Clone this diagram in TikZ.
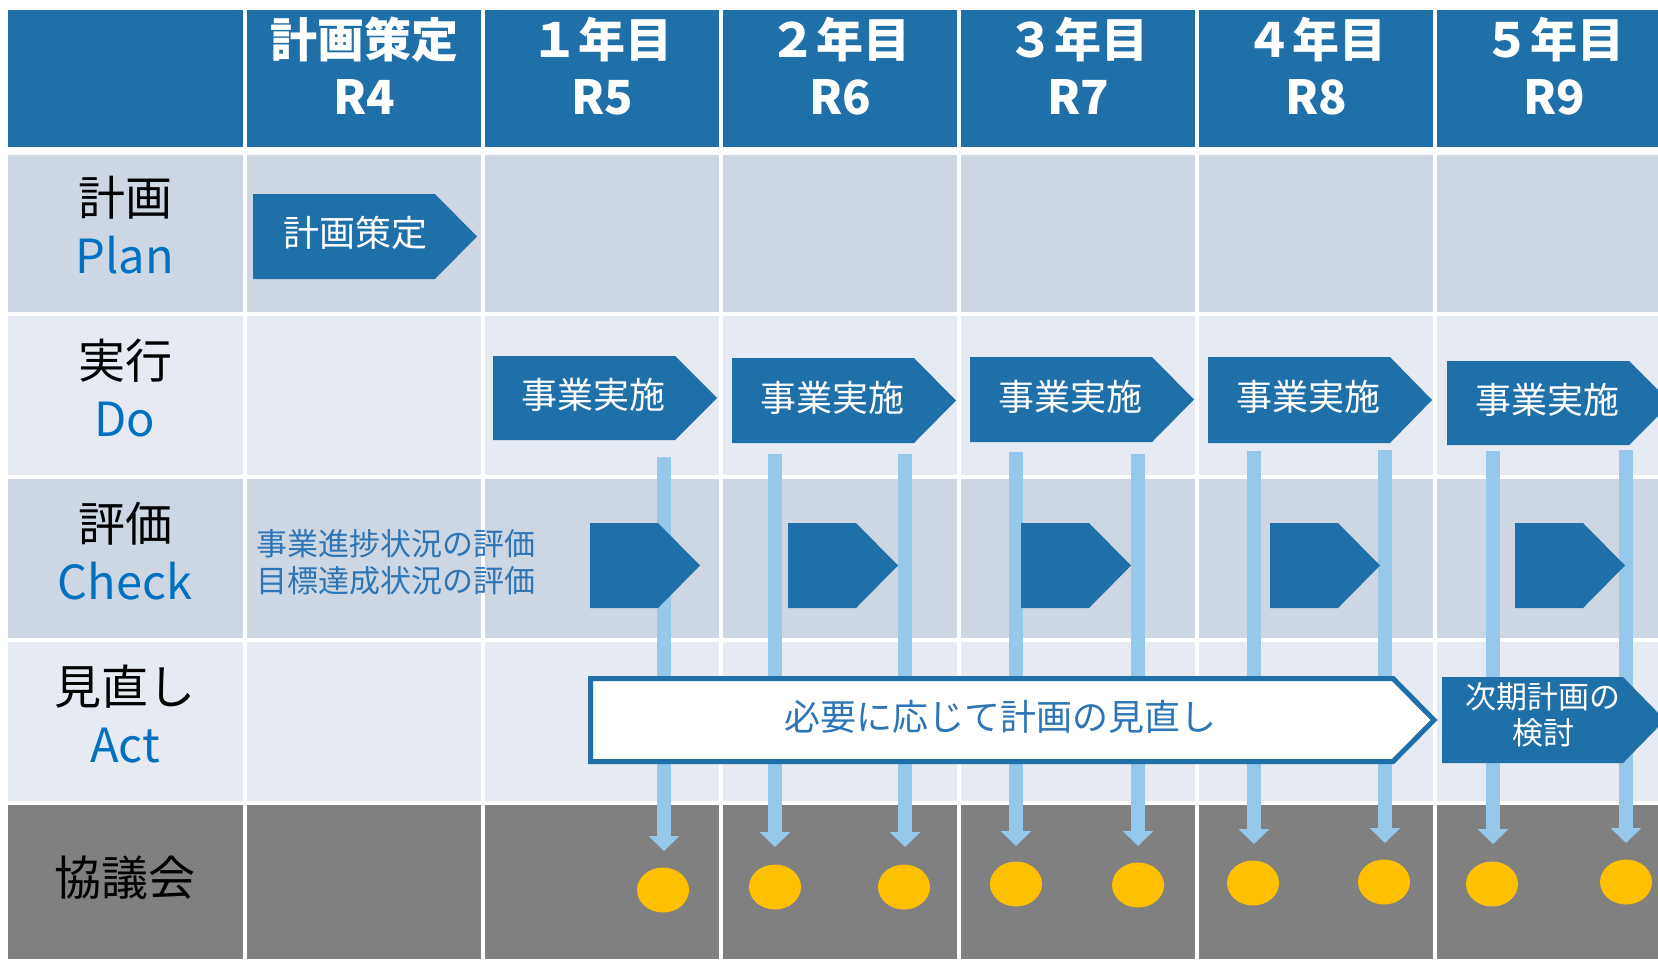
\documentclass[tikz,border=0pt]{standalone}
\usepackage{fontspec}
\setmainfont{Noto Sans CJK JP}
\usetikzlibrary{arrows.meta,shapes.geometric}
\definecolor{hdr}{HTML}{1F6FA8}
\definecolor{rowa}{HTML}{CDD7E3}
\definecolor{rowb}{HTML}{E6EAF2}
\definecolor{council}{HTML}{808080}
\definecolor{vline}{HTML}{96C8EC}
\definecolor{dotc}{HTML}{FFC000}
\definecolor{labblue}{HTML}{0070C0}
\definecolor{txtblue}{HTML}{2E75B6}
\newcommand\myfs[2]{\fontsize{#1}{#2}\selectfont}
\newcommand\pentfill[6]{\fill[#1] (#2,#5) -- (#3,#5) -- (#4,{(#5+#6)/2}) -- (#3,#6) -- (#2,#6) -- cycle;}
\tikzset{
  hdrtext/.style={text=white,align=center,inner sep=0pt,font=\myfs{23.5}{28.5}\bfseries},
  rowlab/.style={text=black,align=center,inner sep=0pt,font=\myfs{23.5}{29}},
  arrtext/.style={text=white,align=center,inner sep=0pt,font=\myfs{18}{22}},
  dotn/.style={ellipse,fill=dotc,draw=none,minimum width=26pt,minimum height=22.5pt,inner sep=0pt},
  varrow/.style={draw=vline,line width=7pt,-{Triangle[width=15pt,length=7.5pt]}},
  gridline/.style={draw=white,line width=2pt}
}
\begin{document}
\begin{tikzpicture}[x=0.5pt,y=-0.5pt]
\useasboundingbox (0,0) rectangle (1658,959);
\fill[white] (0,0) rectangle (1658,959);
% row bands
\fill[hdr] (8,10) rectangle (1658,147);
\fill[rowa] (8,155) rectangle (1658,312);
\fill[rowb] (8,316) rectangle (1658,475);
\fill[rowa] (8,479) rectangle (1658,638);
\fill[rowb] (8,642) rectangle (1658,801);
\fill[council] (8,805) rectangle (1658,959);
\foreach \x in {245,483,721,959,1197,1435} \draw[gridline] (\x,10) -- (\x,959);
% header
\node[hdrtext] (h0) at (364,66) {計画策定\\R4};
\node[hdrtext] (h1) at (602,66) {１年目\\R5};
\node[hdrtext] (h2) at (840,66) {２年目\\R6};
\node[hdrtext] (h3) at (1078,66) {３年目\\R7};
\node[hdrtext] (h4) at (1316,66) {４年目\\R8};
\node[hdrtext] (h5) at (1554,66) {５年目\\R9};
% row labels
\node[rowlab] (lplan) at (125,225) {計画\\\textcolor{labblue}{Plan}};
\node[rowlab] (ldo) at (125,388) {実行\\\textcolor{labblue}{Do}};
\node[rowlab] (lcheck) at (125,551) {評価\\\textcolor{labblue}{Check}};
\node[rowlab] (lact) at (125,714) {見直し\\\textcolor{labblue}{Act}};
\node[rowlab] (lcouncil) at (125,878) {協議会};
% vertical arrows to council
\foreach \i/\x/\yt/\yb in {1/664/457/851,2/775/454/847,3/905/454/847,4/1016/452/846,5/1138/454/846,6/1254/451/844,7/1385/450/843,8/1493/451/844,9/1626/450/843}{
  \coordinate (vt\i) at (\x,\yt);
  \coordinate (vb\i) at (\x,\yb);
  \draw[varrow] (vt\i) -- (vb\i);
}
% council dots
\foreach \i/\x/\y in {1/663/890,2/775/887,3/904/887,4/1016/884,5/1138/885,6/1253/883,7/1384/882,8/1492/884,9/1626/882}{
  \node[dotn] (d\i) at (\x,\y) {};
}
% plan
\pentfill{hdr}{253}{435}{477}{194}{279}
\node[arrtext] (pplan) at (355,233) {計画策定};
% do
\foreach \i/\l/\t/\b in {1/493/356/440,2/732/358/443,3/970/357/442,4/1208/357/443,5/1447/361/445}{
  \pentfill{hdr}{\l}{\l+182}{\l+224}{\t}{\b}
  \node[arrtext] (do\i) at (\l+100,{(\t+\b)/2-3}) {事業実施};
}
% check
\node[inner sep=0pt,anchor=west,align=left,text=txtblue,font=\myfs{15.5}{18.5}] (ctext) at (256,562) {事業進捗状況の評価\\目標達成状況の評価};
\foreach \i/\l in {1/590,2/788,3/1021,4/1270,5/1515}{
  \pentfill{hdr}{\l}{\l+68}{\l+110}{523}{608}
}
% act
\draw[draw=hdr,fill=white,line width=2.5pt,miter limit=10] (590.5,678.5) -- (1393,678.5) -- (1434,720) -- (1393,761.5) -- (590.5,761.5) -- cycle;
\node[inner sep=0pt,text=txtblue,font=\myfs{18}{22}] (review) at (1000,717) {必要に応じて計画の見直し};
\pentfill{hdr}{1442}{1623}{1665}{677}{763}
\node[arrtext,font=\myfs{15.5}{18}] (next) at (1543,715) {次期計画の\\検討};
\end{tikzpicture}
\end{document}
